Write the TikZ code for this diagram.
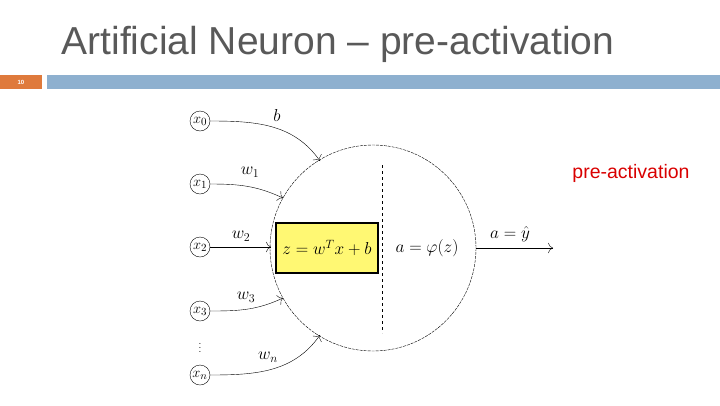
\documentclass[tikz,border=0pt]{standalone}
\usepackage{fontspec}
\setsansfont{Liberation Sans}
\usetikzlibrary{arrows.meta}
\definecolor{barblue}{HTML}{8EB0CF}
\definecolor{barorange}{HTML}{DF7A3C}
\begin{document}
\begin{tikzpicture}[x=1pt,y=-1pt,
  inp/.style={circle,draw,inner sep=0pt,minimum size=20pt,font=\fontsize{15}{15}\selectfont},
  conn/.style={-{To[length=5pt]},thin},
  lbl/.style={font=\fontsize{18}{18}\selectfont}]
\useasboundingbox (0,0) rectangle (720,405);
\node[font=\sffamily\fontsize{39}{39}\selectfont,text=black!65] (title) at (338,44) {Artificial Neuron -- pre-activation};
\fill[barorange] (0,75) rectangle (42,89);
\fill[barblue] (47,75) rectangle (720,89);
\node[font=\sffamily\bfseries\fontsize{6}{6}\selectfont,text=white] (num) at (21,82) {10};
\node[circle,draw,dashed,dash pattern=on 3pt off 1pt,minimum size=206pt,inner sep=0pt] (neuron) at (373,248) {};
\node[draw,very thick,fill=yellow!55,minimum width=102pt,minimum height=50pt,inner sep=0pt,lbl] (z) at (327,248) {$z=w^Tx+b$};
\coordinate (dt) at (382,165); \coordinate (db) at (382,333);
\draw[dashed] (dt) -- (db);
\node[lbl] (act) at (427,248) {$a=\varphi(z)$};
\coordinate (os) at (476,248); \coordinate (oe) at (553,248);
\draw[conn] (os) -- (oe);
\node[lbl] (out) at (510,234) {$a=\hat y$};
\node[inp] (x0) at (200,121) {$x_0$};
\node[inp] (x1) at (200,184) {$x_1$};
\node[inp] (x2) at (200,247) {$x_2$};
\node[inp] (x3) at (200,311) {$x_3$};
\node[inp] (xn) at (200,375) {$x_n$};
\node[font=\fontsize{10}{10}\selectfont] (dots) at (200,345) {$\vdots$};
\coordinate (e0) at (320,161); \coordinate (e1) at (283,198);
\coordinate (e2) at (271,247); \coordinate (e3) at (283,298); \coordinate (en) at (320,335);
\draw[conn] (x0) to[out=0,in=125] (e0);
\draw[conn] (x1) to[out=0,in=155] (e1);
\draw[conn] (x2) -- (e2);
\draw[conn] (x3) to[out=0,in=205] (e3);
\draw[conn] (xn) to[out=0,in=235] (en);
\node[lbl] (lb) at (277,115) {$b$};
\node[lbl] (l1) at (250,172) {$w_1$};
\node[lbl] (l2) at (241,236) {$w_2$};
\node[lbl] (l3) at (246,297) {$w_3$};
\node[lbl] (ln) at (268,357) {$w_n$};
\node[font=\sffamily\fontsize{19.5}{19.5}\selectfont,text=red!85!black] (pa) at (631,173) {pre-activation};
\end{tikzpicture}
\end{document}
